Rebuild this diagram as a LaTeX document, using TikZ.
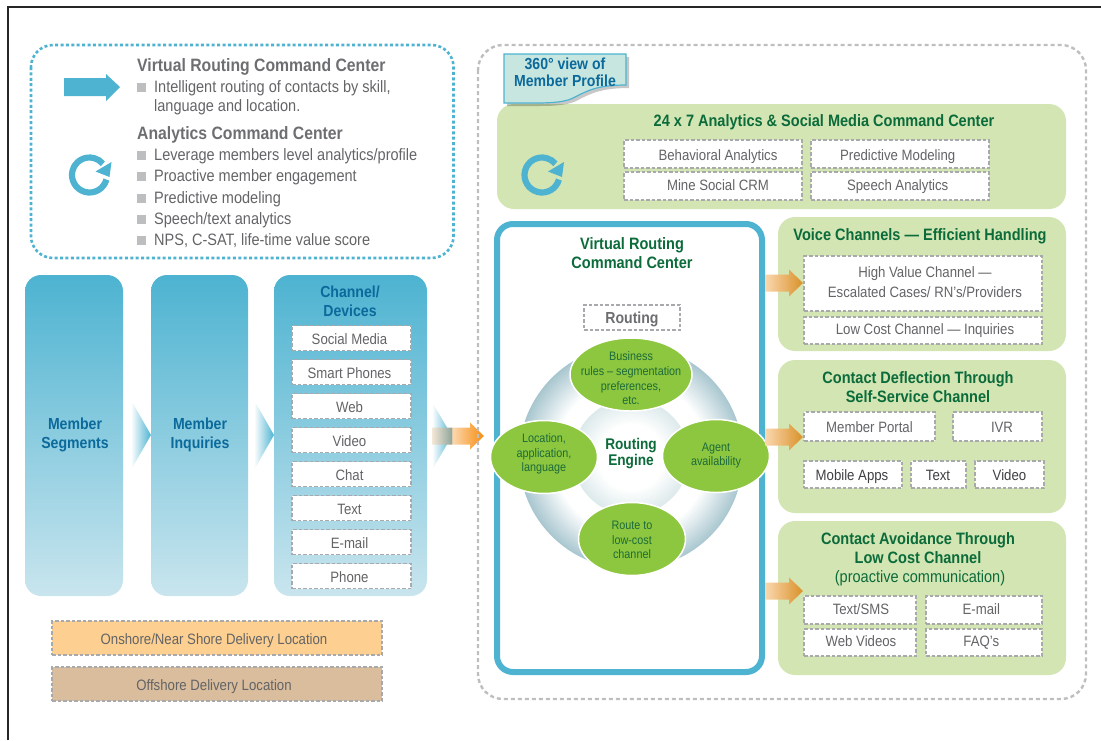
\documentclass[tikz,border=0pt]{standalone}
\usepackage{fontspec}
\setmainfont{Liberation Sans}[FakeStretch=0.88]
\usetikzlibrary{shapes.geometric,calc}
\definecolor{cblue}{HTML}{4DB3D1}
\definecolor{cblueL}{HTML}{C9E5EE}
\definecolor{ctitle}{HTML}{0B6A9B}
\definecolor{cgreen}{HTML}{D3E5B3}
\definecolor{cdgreen}{HTML}{0B6B3A}
\definecolor{cleaf}{HTML}{8DC63F}
\definecolor{cleaft}{HTML}{1C6B3A}
\definecolor{cgray}{HTML}{636466}
\definecolor{cdark}{HTML}{3F4042}
\definecolor{chead}{HTML}{6D6E71}
\definecolor{cdash}{HTML}{A7A9AC}
\definecolor{cbul}{HTML}{BCBEC0}
\definecolor{cnote}{HTML}{C8E6E0}
\definecolor{cshaft}{HTML}{93A79C}
\definecolor{cpale}{HTML}{F3E8D8}
\definecolor{corL}{HTML}{FBD8B0}
\definecolor{corD}{HTML}{F7941E}
\definecolor{cor2}{HTML}{DC9835}
\definecolor{cring}{HTML}{A8C6CF}
\definecolor{cinner}{HTML}{DCE9EB}
\definecolor{conshore}{HTML}{FDCF91}
\definecolor{coffshore}{HTML}{D9BD9C}
\tikzset{
  x=1pt,y=-1pt,
  txt/.style={font=\fontsize{15}{18}\selectfont,text=cgray,align=center,inner sep=0pt,anchor=mid},
  head/.style={font=\fontsize{17.9}{20}\selectfont\bfseries,text=chead,anchor=mid west,inner sep=0pt},
  litem/.style={font=\fontsize{16.5}{19}\selectfont,text=cgray,anchor=mid west,inner sep=0pt},
  gtitle/.style={font=\fontsize{16.5}{19}\selectfont\bfseries,text=cdgreen,align=center,inner sep=0pt},
  btitle/.style={font=\fontsize{16}{19}\selectfont\bfseries,text=ctitle,align=center,inner sep=0pt},
  dbox/.style={draw=cdash,fill=white,line width=1.2pt,dash pattern=on 3.5pt off 2pt,inner sep=0pt},
  panel/.style={fill=cgreen,rounded corners=17pt},
  col/.style={top color=cblue,bottom color=cblueL,rounded corners=16pt},
  leaf/.style={shape=ellipse,fill=cleaf,draw=white,line width=1.5pt,inner sep=0pt},
  leaft/.style={font=\fontsize{12.3}{14.7}\selectfont,text=cleaft,align=center,inner sep=0pt},
  bul/.style={fill=cbul,minimum size=9pt,inner sep=0pt},
}
\newcommand{\tdy}{3.5}
% box by corners: [style] name, x1, y1, x2, y2, text x-offset, text
\newcommand{\dbx}[8][dbox]{%
  \node[#1,minimum width={(#5-(#3))*1pt},minimum height={(#6-(#4))*1pt}] (#2) at ({(#3+#5)/2},{(#4+#6)/2}) {};
  \node[txt] (#2-t) at ($(#2.center)+(#7,\tdy)$) {#8};}
\newcommand{\bitem}[3]{%
  \node[bul] (#1-b) at (141.5,#2) {};
  \node[litem] (#1) at (154,#2+2.5) {#3};}
\newcommand{\cyc}[3]{%
  \draw[cblue,line width=6.2pt] (#2,#3) ++(15:17.5) arc[start angle=15,end angle=320,radius=17.5];
  \fill[cblue] ($(#2,#3)+(22,-13)$) -- ($(#2,#3)+(6,-3.5)$) -- ($(#2,#3)+(20,2)$) -- cycle;}
\pgfdeclarehorizontalshading{orangeA}{100bp}{color(0bp)=(cpale); color(25bp)=(cpale); color(43.5bp)=(cshaft); color(44.5bp)=(corL); color(72bp)=(corD); color(100bp)=(corD)}
\pgfdeclarehorizontalshading{orangeB}{100bp}{color(0bp)=(corL); color(25bp)=(corL); color(70bp)=(cor2); color(100bp)=(cor2)}
\pgfdeclareradialshading{ringsh}{\pgfpoint{0bp}{0bp}}{color(0bp)=(white); color(17bp)=(white); color(25bp)=(cring); color(50bp)=(cring)}
\pgfdeclareradialshading{innersh}{\pgfpoint{0bp}{0bp}}{color(0bp)=(white); color(14bp)=(white); color(25bp)=(cinner); color(50bp)=(cinner)}
% block arrow: start coordinate, end coordinate, half shaft, half head, head length, shading
\newcommand{\blockarrow}[6]{%
  \path[shading=#6] ($(#1)+(0,-#3)$) -- ($(#2)+(-#5,-#3)$) -- ($(#2)+(-#5,-#4)$) -- (#2) -- ($(#2)+(-#5,#4)$) -- ($(#2)+(-#5,#3)$) -- ($(#1)+(0,#3)$) -- cycle;}
\begin{document}
\begin{tikzpicture}
\useasboundingbox (0,0) rectangle (1101,740);
\draw[line width=2.4pt,color=black!85] (8,740) -- (8,7) -- (1101,7);

% legend panel
\draw[cblue,line width=2.6pt,dash pattern=on 3pt off 2.4pt,rounded corners=22pt] (31,45) rectangle (453.5,258);
\fill[cblue] (64,78) -- (106,78) -- (106,74) -- (120,87) -- (106,101) -- (106,96) -- (64,96) -- cycle;
\cyc{l}{89.5}{175}
\node[head] (h1) at (137,69) {Virtual Routing Command Center};
\bitem{l1}{87}{Intelligent routing of contacts by skill,}
\node[litem] (l1b) at (154,108.5) {language and location.};
\node[head] (h2) at (137,137) {Analytics Command Center};
\bitem{l2}{155}{Leverage members level analytics/profile}
\bitem{l3}{176}{Proactive member engagement}
\bitem{l4}{198}{Predictive modeling}
\bitem{l5}{219}{Speech/text analytics}
\bitem{l6}{240}{NPS, C-SAT, life-time value score}

% columns
\shade[col] (25,275) rectangle (123,596);
\shade[col] (151,275) rectangle (248,596);
\shade[col] (274,275) rectangle (427,596);
\node[btitle] (seg) at (75,435) {Member\\Segments};
\node[btitle] (inq) at (200,435) {Member\\Inquiries};
\node[btitle] (chan) at (350,301) {Channel/\\Devices};
\foreach \n/\y/\t in {a/338/Social Media,b/372/Smart Phones,c/406/Web,d/440/Video,e/474/Chat,f/508/Text,g/542/E-mail,h/576/Phone}{
  \dbx{ch\n}{292}{\y-12.5}{411}{\y+12.5}{-2}{\t}
}
% chevrons
\shade[left color=white,right color=cblue] (131,400) -- (151,435) -- (131,470) -- cycle;
\shade[left color=white,right color=cblue] (254,400) -- (274,435) -- (254,470) -- cycle;
\shade[left color=white,right color=cblue] (432,402) -- (452,436) -- (432,470) -- cycle;
\coordinate (mainS) at (432,436);
\coordinate (mainE) at (484,436);
\blockarrow{mainS}{mainE}{8.5}{13.5}{14}{orangeA}

% legend boxes
\dbx[dbox,fill=conshore]{on}{52}{621}{382}{655}{-3}{Onshore/Near Shore Delivery Location}
\dbx[dbox,fill=coffshore]{off}{52}{667}{382}{701}{-3}{Offshore Delivery Location}

% right panel
\draw[cbul,line width=2.4pt,dash pattern=on 4pt off 3pt,rounded corners=25pt] (478,45) rectangle (1086,699);

% analytics
\fill[panel] (497,104) rectangle (1066,209);
\node[gtitle] (antitle) at (824,122.5) {24 x 7 Analytics \& Social Media Command Center};
\dbx{an1}{624}{140}{802}{168}{5}{Behavioral Analytics}
\dbx{an2}{811}{140}{989}{168}{-2.3}{Predictive Modeling}
\renewcommand{\tdy}{1.5}
\dbx{an3}{624}{172}{802}{200}{5}{Mine Social CRM}
\dbx{an4}{811}{172}{989}{200}{-2.3}{Speech Analytics}
\renewcommand{\tdy}{3.5}
\cyc{r}{542}{175}

% note
\fill[black,opacity=.22] (507,57) -- (629,57) -- (629,88) .. controls (600,88) and (590,94) .. (578,100) .. controls (570,105) and (555,106) .. (540,106) -- (507,106) -- cycle;
\draw[cblue,fill=cnote,line width=1.2pt] (504,54) -- (626,54) -- (626,85) .. controls (597,85) and (587,91) .. (575,97) .. controls (567,102) and (552,103) .. (537,103) -- (504,103) -- cycle;
\node[btitle,font=\fontsize{16}{17}\selectfont\bfseries] (note) at (565,72) {360° view of\\Member Profile};

% routing centre
\draw[cblue,line width=6pt,rounded corners=16pt] (497,224) rectangle (762,672);
\node[gtitle] (vrc) at (632,253.5) {Virtual Routing\\Command Center};
\dbx{rout}{584}{305}{680}{330}{0}{\fontsize{16}{19}\selectfont\bfseries\color{chead}Routing}
\path[shading=ringsh] (631,457) circle[radius=112];
\path[shading=innersh] (631,457) circle[radius=58];
\node[leaf,minimum width=122pt,minimum height=73pt] (lt) at (631,374.5) {};
\node[leaf,minimum width=107pt,minimum height=73pt] (ll) at (544,457) {};
\node[leaf,minimum width=107pt,minimum height=73pt] (lr) at (716,456) {};
\node[leaf,minimum width=107pt,minimum height=73pt] (lb) at (632,539) {};
\node[leaft] (ltt) at ([yshift=-4pt]lt.center) {Business\\rules – segmentation\\preferences,\\etc.};
\node[leaft] (llt) at ([yshift=3pt]ll.center) {Location,\\application,\\language};
\node[leaft] (lrt) at ([yshift=.5pt]lr.center) {Agent\\availability};
\node[leaft] (lbt) at ([yshift=-1pt]lb.center) {Route to\\low-cost\\channel};
\node[gtitle,font=\fontsize{15.5}{16.5}\selectfont\bfseries] (engine) at (631,453.5) {Routing\\Engine};

% voice
\fill[panel] (778,217) rectangle (1066,351);
\node[gtitle] (vt) at (920,236.5) {Voice Channels — Efficient Handling};
\dbx{v1}{804}{256}{1042}{311}{2}{}
\node[txt] (v1a) at (925,275) {High Value Channel —};
\node[txt] (v1b) at (925,295) {Escalated Cases/ RN’s/Providers};
\renewcommand{\tdy}{1.5}
\dbx{v2}{804}{317}{1042}{344}{2}{Low Cost Channel — Inquiries}
\renewcommand{\tdy}{3.5}

% deflection
\fill[panel] (778,360) rectangle (1066,513);
\node[gtitle] (dt) at (918,387) {Contact Deflection Through\\Self-Service Channel};
\dbx{d1}{804}{412}{935}{441}{0}{Member Portal}
\dbx{d2}{953}{412}{1042}{441}{4.5}{IVR}
\dbx{d3}{804}{461}{902}{488}{-1}{\color{cdark}Mobile Apps}
\dbx{d4}{911}{461}{966}{488}{-.5}{\color{cdark}Text}
\dbx{d5}{975}{461}{1044}{488}{0}{\color{cdark}Video}

% avoidance
\fill[panel] (778,521) rectangle (1066,675);
\node[gtitle] (at) at (918,548) {Contact Avoidance Through\\Low Cost Channel};
\node[gtitle,font=\fontsize{16.5}{19}\selectfont] (at2) at (920,578) {(proactive communication)};
\renewcommand{\tdy}{1.5}
\dbx{a1}{804}{596}{916}{624}{1}{Text/SMS}
\dbx{a2}{926}{596}{1042}{624}{-2.7}{E-mail}
\dbx{a3}{804}{629}{916}{656}{1}{Web Videos}
\dbx{a4}{926}{629}{1042}{656}{-2.7}{FAQ’s}
\renewcommand{\tdy}{3.5}

% output arrows
\coordinate (o1s) at (765,283); \coordinate (o1e) at (803,283);
\coordinate (o2s) at (765,437); \coordinate (o2e) at (803,437);
\coordinate (o3s) at (765,591); \coordinate (o3e) at (803,591);
\blockarrow{o1s}{o1e}{8.5}{13.5}{14}{orangeB}
\blockarrow{o2s}{o2e}{8.5}{13.5}{14}{orangeB}
\blockarrow{o3s}{o3e}{8.5}{13.5}{14}{orangeB}
\end{tikzpicture}
\end{document}
